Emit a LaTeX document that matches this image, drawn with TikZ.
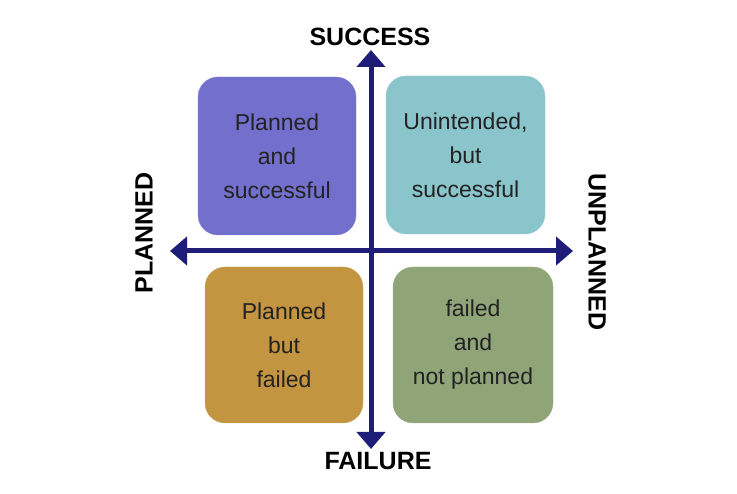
\documentclass[tikz,border=0pt]{standalone}
\usepackage{fontspec}
\setmainfont{Liberation Sans}
\usetikzlibrary{arrows.meta}
\definecolor{navy}{HTML}{1E1E78}
\definecolor{cpurple}{HTML}{7370CD}
\definecolor{cteal}{HTML}{8AC5CC}
\definecolor{cgold}{HTML}{C39541}
\definecolor{cgreen}{HTML}{8FA577}
\definecolor{txt}{HTML}{222222}
\begin{document}
\begin{tikzpicture}[x=1pt,y=-1pt,
  quad/.style={rounded corners=20pt, inner sep=0pt, align=center, text=txt,
    font=\fontsize{23}{34}\selectfont},
  axislabel/.style={font=\fontsize{25}{28}\selectfont\bfseries, text=black, inner sep=0pt},
  axisarrow/.style={draw=navy, line width=5pt, -{Triangle[length=17pt,width=28pt]}}]
\useasboundingbox (0,0) rectangle (737,494);
\fill[white] (0,0) rectangle (737,494);
% quadrant boxes
\node[quad, fill=cpurple, draw=cpurple!85!white, minimum width=158pt, minimum height=158pt]
  (ps) at (277,156) {\fontsize{23}{31}\selectfont Planned\\and\\successful};
\node[quad, fill=cteal, draw=cteal!85!white, minimum width=159pt, minimum height=158pt]
  (us) at (465.5,155) {Unintended,\\but\\successful};
\node[quad, fill=cgold, draw=cgold!80!white, minimum width=158pt, minimum height=156pt]
  (pf) at (284,345) {Planned\\but\\failed};
\node[quad, fill=cgreen, draw=cgreen!85!white, minimum width=160pt, minimum height=156pt]
  (fn) at (473,345) {failed\\and\\not planned};
% axes
\coordinate (c) at (371,251);
\coordinate (top) at (371,50);
\coordinate (bot) at (371,449);
\coordinate (lft) at (170,251);
\coordinate (rgt) at (573,251);
\draw[axisarrow] (c) -- (lft);
\draw[axisarrow] (c) -- (rgt);
\draw[axisarrow] (c) -- (top);
\draw[axisarrow] (c) -- (bot);
% axis labels
\node[axislabel] (success) at (370,37) {SUCCESS};
\node[axislabel] (failure) at (378,461) {FAILURE};
\node[axislabel, rotate=90] (planned) at (144,233) {PLANNED};
\node[axislabel, rotate=-90] (unplanned) at (597,252) {UNPLANNED};
\end{tikzpicture}
\end{document}
